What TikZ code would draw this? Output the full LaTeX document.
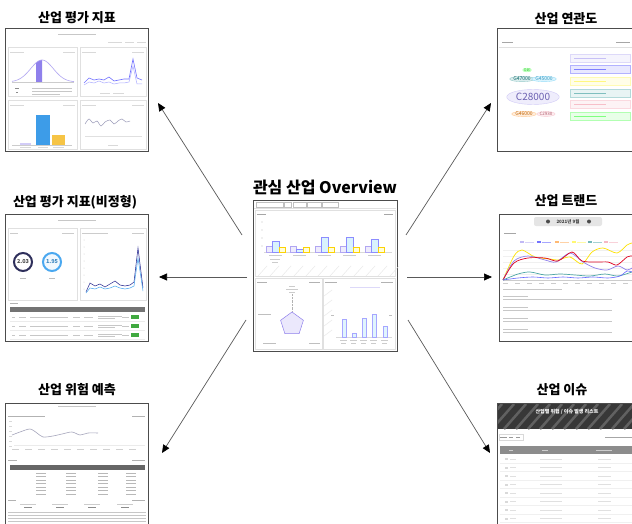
\documentclass[tikz,border=0pt]{standalone}
\usepackage{fontspec}
\newfontfamily\kr{Noto Sans CJK KR}
\usetikzlibrary{arrows.meta,shapes.geometric}

\definecolor{barblue}{HTML}{3D9CE8}
\definecolor{baryel}{HTML}{F6C445}
\definecolor{navy}{HTML}{2E2F5B}
\definecolor{skyb}{HTML}{4AA8F0}
\definecolor{lav}{HTML}{8F80EC}
\definecolor{rose}{HTML}{EE7F93}

\tikzset{
  shot/.style={draw=black!70, line width=1pt, fill=white, inner sep=0pt, outer sep=0pt, anchor=north west},
  ttl/.style={font=\kr\bfseries\fontsize{13}{13}\selectfont, inner sep=0pt},
  flow/.style={draw=black!65, line width=0.7pt, -{Triangle[length=8pt,width=7pt,color=black]}},
  pane/.style={draw=black!12, line width=0.3pt},
  ftxt/.style={draw=black!22, line width=0.8pt},
  bub/.style={ellipse, inner sep=0.5pt, draw=#1!40, fill=#1!14, text=#1!75!black},
  tiny/.style={font=\kr\fontsize{3.5}{4}\selectfont, inner sep=0pt},
}

\begin{document}
\begin{tikzpicture}[x=1pt,y=-1pt]
    \useasboundingbox (0,0) rectangle (632,524);
    \clip (0,0) rectangle (632,524);

    % titles
    \node[ttl] (t-eval) at (77,18) {산업 평가 지표};
    \node[ttl] (t-link) at (566,19) {산업 연관도};
    \node[ttl, font=\kr\bfseries\fontsize{16}{16}\selectfont] (t-ov) at (325,187) {관심 산업 Overview};
    \node[ttl] (t-evalu) at (75,202) {산업 평가 지표(비정형)};
    \node[ttl] (t-trend) at (566,201) {산업 트랜드};
    \node[ttl] (t-risk) at (77,390) {산업 위험 예측};
    \node[ttl] (t-issue) at (562,390) {산업 이슈};

    % ---- 산업 평가 지표 ----
    \node[shot, minimum width=143, minimum height=123] (eval) at (5,29) {};
    \draw[ftxt] (58,34) -- (96,34);
    \draw[ftxt, draw=black!15] (108,42) -- (122,42) (125,42) -- (134,42) (137,42) -- (146,42);
    \foreach \x/\y/\w in {8/47/69, 80/47/66, 8/100/69, 80/100/66}
    {
        \draw[pane] (\x,\y) rectangle ++(\w,49);
        \draw[ftxt, draw=black!15] (\x+2,\y+5) -- ++(14,0) (\x+\w-14,\y+5) -- ++(12,0);
    }
    \draw[black!20] (12,82) -- (74,82);
    \fill[lav] (36,82) -- plot[domain=36:42,samples=8] (\x,{82-22*exp(-((\x-42)/16)^2)}) -- (42,82) -- cycle;
    \draw[lav!70, line width=0.6pt] plot[domain=12:74,samples=50,smooth] (\x,{82-22*exp(-((\x-42)/16)^2)});
    \draw[ftxt, draw=black!45] (15,88) -- (19,88) (16,92) -- (18,92);
    \draw[ftxt] (32,88) -- (72,88) (32,91) -- (72,91) (32,94) -- (60,94);
    \draw[blue!55, line width=0.6pt] (84,83) -- (89,78) -- (94,80) -- (99,79) -- (104,80) -- (109,77) -- (114,81) -- (119,80) -- (124,79) -- (129,79) -- (133,59) -- (137,78) -- (142,80);
    \draw[blue!30, line width=0.5pt] (84,85) -- (89,82) -- (94,83) -- (99,81) -- (104,83) -- (109,82) -- (114,84) -- (119,83) -- (124,83) -- (129,82) -- (133,66) -- (137,84) -- (142,84);
    \draw[ftxt, draw=black!15] (100,93) -- (110,93) (113,93) -- (124,93);
    \draw[black!20] (12,145) -- (72,145);
    \fill[lav!40] (20,143.5) rectangle (31,145);
    \fill[barblue] (36,115) rectangle (50,145);
    \fill[baryel] (52,135) rectangle (65,145);
    \draw[ftxt, draw=black!15] (20,147.5) -- (31,147.5) (38,147.5) -- (48,147.5) (53,147.5) -- (64,147.5);
    \draw[blue!30!black!40, line width=0.5pt] plot[smooth] coordinates {(85,124) (89,119) (93,123) (97,121) (101,126) (105,122) (110,120) (114,124) (118,121) (122,119) (126,122) (130,121)};
    \draw[ftxt, draw=black!12] (85,136) -- (142,136);
    \draw[ftxt, draw=black!15] (108,145) -- (118,145);

    % ---- 산업 연관도 ----
    \node[shot, minimum width=145, minimum height=123] (link) at (497,29) {};
    \draw[ftxt, draw=black!35] (502,42) -- (513,42) (616,42) -- (630,42);
    \draw[pane] (499,47) -- (632,47);
    \node[bub=green, tiny] (b-g46) at (527,70) {G46};
    \node[bub=teal, tiny, font=\kr\fontsize{5}{5}\selectfont] (b-g47) at (522,79) {G47000};
    \node[bub=cyan, tiny, font=\kr\fontsize{5}{5}\selectfont] (b-g45) at (544,79) {G45000};
    \node[bub=lav, font=\kr\fontsize{10}{10}\selectfont, inner sep=1.5pt] (b-c28) at (533,97) {C28000};
    \node[bub=orange, tiny, font=\kr\fontsize{5}{5}\selectfont] (b-g46b) at (524,114) {G46000};
    \node[bub=rose, tiny, font=\kr\fontsize{4.5}{5}\selectfont] (b-c29) at (546,114) {C2930};
    \foreach \y/\c in {54/lav, 65/blue, 77/yellow, 89/teal, 100/rose, 112/green}
    {
        \draw[draw=\c!30, fill=\c!9] (570,\y) rectangle (630,\y+8.5);
        \draw[\c!50, line width=0.7pt] (574,\y+4.2) -- (606,\y+4.2);
    }

    % ---- 관심 산업 Overview ----
    \node[shot, minimum width=144, minimum height=151] (ov) at (253,200) {};
    \foreach \a/\b in {256/283, 284/291, 293/306, 307/321, 322/338}
        \draw[black!25, line width=0.3pt] (\a,202) rectangle (\b,207);
    \draw[pane] (254,208) -- (396,208);
    \draw[pane] (255,210) rectangle (395,276);
    \draw[ftxt, draw=black!35] (257,214) -- (266,214) (384,214) -- (393,214);
    \foreach \y in {222,230,238,246}
        \fill[black!25] (262,\y) circle (0.6);
    \draw[black!15] (264,252) -- (392,252);
    \foreach \g/\hb in {266/241, 290/249, 315/237, 340/237, 365/239}
    {
        \draw[lav!70, line width=0.4pt, fill=lav!15] (\g,246) rectangle (\g+6,252);
        \draw[blue!45, line width=0.4pt, fill=cyan!15] (\g+6,\hb) rectangle (\g+13,252);
        \draw[yellow!70!orange, line width=0.4pt, fill=yellow!15] (\g+13,247) rectangle (\g+19,252);
        \draw[ftxt, draw=black!20, line width=0.5pt] (\g+3,255.5) -- (\g+16,255.5);
    }
    \draw[ftxt, draw=black!20, line width=0.5pt] (270,259) -- (280,259) (272,262) -- (278,262);
    \foreach \x in {258,270,...,394}
        \draw[black!10] (\x,276) -- (\x+9,266);
    \draw[pane] (255,278) rectangle (322,349);
    \draw[ftxt, draw=black!30] (257,282) -- (267,282) (309,282) -- (320,282);
    \draw[black!30, densely dotted] (292,294) -- (292,312);
    \draw[lav, fill=lav!18, line width=0.5pt] (292,312) -- (303.4,320.3) -- (299.1,333.7) -- (284.9,333.7) -- (280.6,320.3) -- cycle;
    \draw[ftxt, draw=black!20, line width=0.5pt] (289,286) -- (295,286) (286,289) -- (298,289) (289,292) -- (295,292);
    \draw[ftxt, draw=black!25, line width=0.5pt] (258,314) -- (271,314) (263,343) -- (276,343) (309,343) -- (320,343);
    \draw[pane] (323,278) rectangle (395,349);
    \draw[ftxt, draw=black!30] (325,282) -- (337,282) (381,282) -- (393,282);
    \foreach \y in {290,300,...,330}
        \draw[black!10] (324,\y+6) -- (332,\y);
    \draw[ftxt, draw=lav!30, line width=0.5pt] (350,287) -- (380,287);
    \draw[black!15] (336,337) -- (392,337);
    \foreach \x/\t in {342/319, 352/333, 362/318, 372/314, 383/326}
    {
        \draw[blue!35, line width=0.4pt, fill=cyan!12] (\x,\t) rectangle (\x+4,337);
        \draw[ftxt, draw=black!20, line width=0.5pt] (\x-2,340) -- (\x+5,340) (\x-1,343) -- (\x+4,343);
    }
    \draw[ftxt, draw=black!25, line width=0.5pt] (331,315) -- (334,315) (389,315) -- (392,315);

    % ---- 산업 평가 지표(비정형) ----
    \node[shot, minimum width=143, minimum height=127] (evalu) at (5,214) {};
    \draw[ftxt] (58,220) -- (96,220);
    \draw[pane] (8,228) rectangle (77,300);
    \draw[pane] (80,228) rectangle (146,300);
    \draw[ftxt, draw=black!20] (10,233) -- (18,233) (62,233) -- (74,233) (82,233) -- (108,233) (132,233) -- (144,233);
    \draw[navy, line width=2pt] (23,262) circle (9);
    \node[font=\kr\bfseries\fontsize{5.5}{6}\selectfont, text=black!70, inner sep=0pt] (v-lt) at (23,262) {2.03};
    \draw[skyb, line width=2pt, fill=skyb!8] (52,262) circle (9);
    \node[font=\kr\bfseries\fontsize{5.5}{6}\selectfont, text=skyb!80!black, inner sep=0pt] (v-rt) at (52,262) {1.95};
    \draw[ftxt, draw=black!25, line width=0.5pt] (20,278) -- (26,278) (49,278) -- (55,278);
    \foreach \y in {240,247,...,289}
        \fill[black!20] (84,\y) circle (0.5);
    \draw[navy!70!blue, line width=0.5pt] (86,292) -- (90,283) -- (95,286) -- (100,284) -- (105,287) -- (110,284) -- (115,281) -- (120,285) -- (125,286) -- (130,285) -- (134,282) -- (138,248) -- (143,288);
    \draw[skyb, line width=0.5pt] (86,293) -- (90,288) -- (95,289) -- (100,287) -- (105,289) -- (110,288) -- (115,286) -- (120,288) -- (125,289) -- (130,288) -- (134,286) -- (138,258) -- (143,291);
    \draw[ftxt, draw=black!30] (10,303) -- (18,303);
    \fill[black!55] (10,307) rectangle (145,312);
    \foreach \y in {317,326,335}
    {
        \draw[ftxt, line width=0.6pt] (12,\y) -- (15,\y) (19,\y) -- (26,\y) (30,\y) -- (68,\y) (73,\y) -- (80,\y) (84,\y) -- (93,\y) (98,\y-1) -- (122,\y-1) (98,\y+1.5) -- (115,\y+1.5) (122,\y) -- (129,\y);
        \fill[green!55!black!75] (131,\y-1.8) rectangle (139,\y+1.8);
        \draw[black!8] (10,\y+4) -- (145,\y+4);
    }

    % ---- 산업 트랜드 ----
    \node[shot, minimum width=143, minimum height=127] (trend) at (499,214) {};
    \fill[black!10, rounded corners=2] (534,217) rectangle (602,226);
    \fill[black!70] (548,221.5) circle (2);
    \fill[black!70] (589,221.5) circle (2);
    \node[font=\kr\bfseries\fontsize{4.5}{5}\selectfont, text=black!75, inner sep=0pt] (month) at (568,221.5) {2021년 9월};
    \draw[ftxt, draw=black!35] (504,233) -- (516,233);
    \foreach \x/\c in {520/lav, 537/blue, 555/orange, 572/yellow, 588/teal, 604/rose}
    {
        \fill[\c!55] (\x,240.8) rectangle (\x+4,243.2);
        \draw[ftxt, draw=\c!35, line width=0.6pt] (\x+5,242) -- (\x+14,242);
    }
    \foreach \y in {250,256,...,280}
        \draw[black!6] (503,\y) -- (632,\y);
    \draw[black!20] (503,280) -- (632,280);
    \foreach \x in {503,515,...,632}
        \draw[ftxt, draw=black!20, line width=0.5pt] (\x,283.5) -- (\x+5,283.5);
    \draw[yellow!85!orange, line width=0.7pt] plot[smooth] coordinates {(503,280) (514,256) (522,250) (535,257) (550,259) (558,260) (570,257) (582,264) (592,252) (603,248) (617,253) (627,245) (632,243)};
    \draw[lav, line width=0.7pt] plot[smooth] coordinates {(503,280) (514,261) (528,256) (545,260) (556,262) (570,253) (583,262) (595,268) (607,270) (618,266) (627,270) (632,268)};
    \draw[red!75!violet, line width=0.7pt] plot[smooth] coordinates {(503,280) (514,263) (528,258) (545,258) (558,261) (572,252) (582,261) (597,262) (608,262) (617,265) (627,257) (632,256)};
    \draw[teal!70, line width=0.7pt] plot[smooth] coordinates {(503,280) (518,274) (530,272) (545,275) (560,274) (575,275) (590,276) (605,274) (618,276) (632,272)};
    \draw[blue!60, line width=0.6pt] plot[smooth] coordinates {(503,280) (518,278) (533,277) (548,278) (563,277) (578,278) (593,277) (608,278) (620,276) (627,271) (632,272)};
    \draw[ftxt, line width=0.6pt] (503,289) -- (562,289);
    \foreach \y in {296,307,318,329}
    {
        \draw[ftxt, line width=0.6pt] (503,\y) -- (528,\y);
        \draw[ftxt, line width=0.6pt] (503,\y+3.5) -- (612,\y+3.5);
    }

    % ---- 산업 위험 예측 ----
    \node[shot, minimum width=143, minimum height=130] (risk) at (5,403) {};
    \draw[ftxt] (58,406) -- (96,406);
    \draw[ftxt, draw=black!30] (8,416) -- (45,416) (132,416) -- (145,416);
    \foreach \y in {421,426,...,446}
        \draw[ftxt, draw=black!15, line width=0.5pt] (9,\y) -- (12,\y);
    \draw[black!8] (14,445) -- (145,445);
    \draw[blue!25!black!35, line width=0.6pt] plot[smooth] coordinates {(12,435) (20,432) (30,429) (37,433) (43,437) (53,436) (62,434) (72,432) (80,435) (88,433) (98,433)};
    \foreach \x in {12,25,...,140}
        \draw[ftxt, draw=black!18, line width=0.5pt] (\x,449) -- (\x+7,449);
    \draw[ftxt, draw=black!30] (8,460) -- (17,460) (132,460) -- (145,460);
    \fill[black!60] (10,465) rectangle (145,469.5);
    \foreach \y in {473,476.5,...,494}
        \foreach \x in {36,66,98,126}
            \draw[ftxt, draw=black!28, line width=0.5pt] (\x,\y) -- (\x+10,\y);
    \draw[ftxt, draw=black!30] (8,500) -- (16,500) (132,500) -- (145,500);
    \foreach \x in {28,60,92,125}
    {
        \draw[ftxt, draw=black!20, line width=0.5pt] (\x-8,504) -- (\x+8,504);
        \draw[ftxt, draw=black!45, line width=0.6pt] (\x-4,507.5) -- (\x+4,507.5);
    }
    \foreach \y in {512,515,...,524}
        \draw[ftxt, draw=black!22, line width=0.6pt] (8,\y) -- (146,\y);

    % ---- 산업 이슈 ----
    \node[shot, minimum width=145, minimum height=130] (issue) at (497,403) {};
    \begin{scope}
        \clip (498,404) rectangle (640,429);
        \fill[black!78] (498,404) rectangle (640,429);
        \foreach \x in {480,492,...,650}
            \draw[black!62, line width=2.5pt] (\x,429) -- (\x+22,404);
    \end{scope}
    \node[font=\kr\bfseries\fontsize{5}{6}\selectfont, text=white, inner sep=0pt] (issue-head) at (567,412) {산업별 위험 / 이슈 발생 리스트};
    \draw[ftxt, draw=black!40, line width=0.6pt] (500,437) -- (507,437) (509,437) -- (513,437) (516,437) -- (520,437);
    \draw[black!15, line width=0.3pt] (499,434) rectangle (523,440);
    \draw[ftxt, draw=black!35, line width=0.6pt] (605,437) -- (632,437);
    \fill[black!45] (500,446) rectangle (640,454);
    \draw[white!80!black, line width=0.6pt] (509,450) -- (513,450) (542,450) -- (548,450) (596,450) -- (612,450);
    \foreach \y in {459,467.5,...,520}
    {
        \fill[black!15] (505,\y-1) rectangle (508,\y+1);
        \draw[ftxt, draw=black!12, line width=0.6pt] (510,\y) -- (516,\y) (540,\y) -- (562,\y) (598,\y) -- (611,\y);
        \draw[black!6] (500,\y+4) -- (640,\y+4);
    }

    % links from the overview page
    \coordinate (s-eval) at (242,235);
    \coordinate (s-evalu) at (247,277);
    \coordinate (s-risk) at (246,320);
    \coordinate (s-link) at (406,235);
    \coordinate (s-trend) at (407,277);
    \coordinate (s-issue) at (408,320);
    \coordinate (e-eval) at (158,103);
    \coordinate (e-evalu) at (159,277);
    \coordinate (e-risk) at (162,453);
    \coordinate (e-link) at (491,103);
    \coordinate (e-trend) at (492,277);
    \coordinate (e-issue) at (490,453);
    \foreach \p in {eval,evalu,risk,link,trend,issue}
        \draw[flow] (s-\p) -- (e-\p);

\end{tikzpicture}
\end{document}
